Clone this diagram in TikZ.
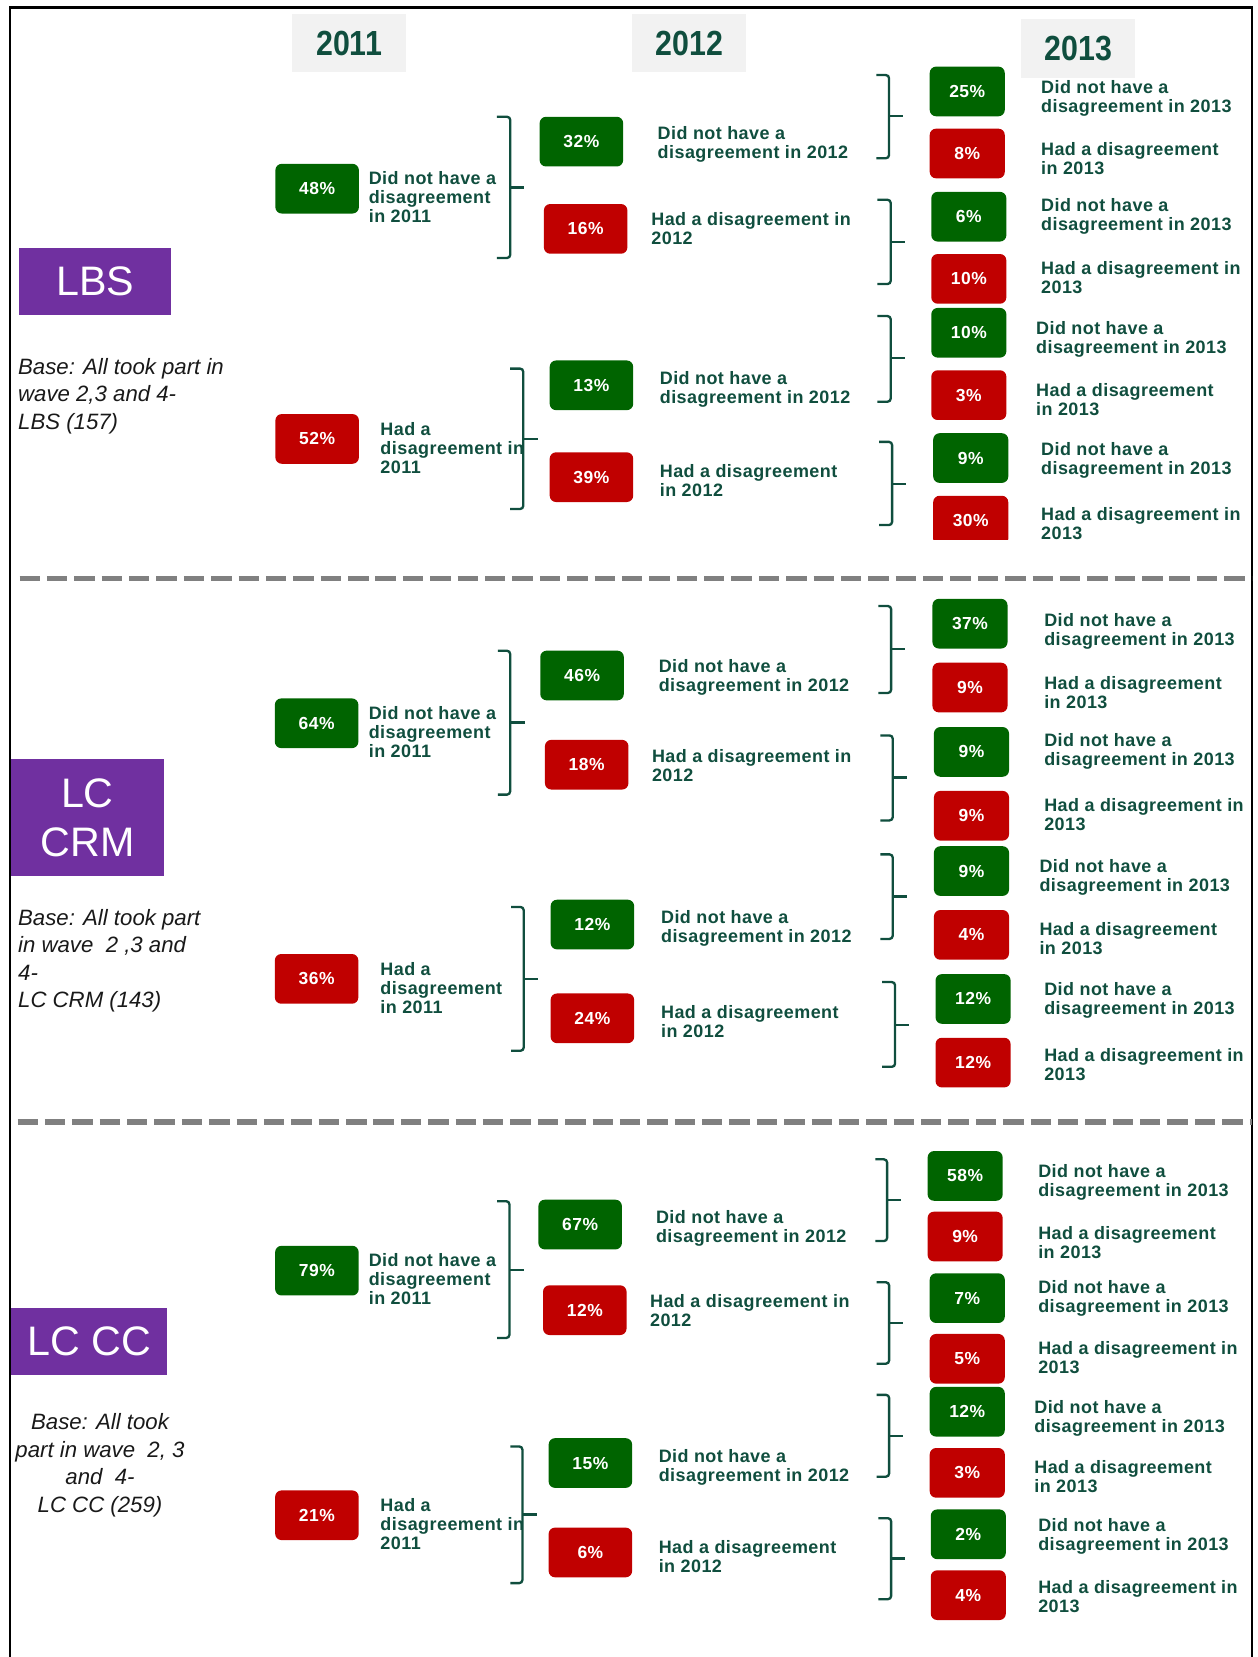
\documentclass[tikz,border=0pt]{standalone}
\usepackage{fontspec}
\setmainfont{Liberation Sans}
\usepackage{graphicx}
\definecolor{boxgreen}{RGB}{0,100,0}
\definecolor{boxred}{RGB}{192,0,0}
\definecolor{labgreen}{RGB}{16,78,62}
\definecolor{secpurple}{RGB}{112,48,160}
\definecolor{hdrgray}{RGB}{242,242,242}
\definecolor{sepgray}{RGB}{128,128,128}
\tikzset{
  pbox/.style={rounded corners=6pt, minimum height=47pt, inner sep=0pt, text=white,
    font=\fontsize{16.5}{16.5}\selectfont\bfseries\addfontfeatures{LetterSpace=3}},
  gb/.style={pbox, fill=boxgreen, minimum width=79pt},
  rb/.style={pbox, fill=boxred, minimum width=79pt},
  gs/.style={pbox, fill=boxgreen, minimum width=71pt},
  rs/.style={pbox, fill=boxred, minimum width=71pt},
  lab/.style={anchor=north west, align=left, inner sep=0pt, text=labgreen,
    font=\fontsize{17}{18}\selectfont\bfseries\addfontfeatures{LetterSpace=2.5}},
  basetxt/.style={inner sep=0pt, text=black!90,
    font=\fontsize{21}{26}\selectfont\itshape},
  hdr/.style={fill=hdrgray, inner sep=0pt, text=labgreen,
    font=\fontsize{33}{33}\selectfont\bfseries},
  sec/.style={fill=secpurple, inner sep=0pt, text=white,
    font=\fontsize{39}{46.5}\selectfont},
  sep/.style={line width=5.4pt, draw=sepgray, dash pattern=on 19.3pt off 6.6pt},
  brk/.style={line width=2.2pt, draw=labgreen, rounded corners=3pt},
  frame/.style={line width=2.5pt, draw=black}
}
\newcommand\brk[6]{\draw[brk] (#1,#4) -- (#2,#4) -- (#2,#5) -- (#1,#5); \draw[brk] (#2,#6) -- (#3,#6);}
\begin{document}
\begin{tikzpicture}[x=1pt,y=-1pt]
\useasboundingbox (0,0) rectangle (1190,1567.5);
\draw[frame] (9.3,1567.5) -- (9.3,7.3) -- (1184.4,7.3) -- (1184.4,1567.5);

% headers
\node[hdr, minimum width=107.4pt, minimum height=55.1pt] (h2011) at (330.3,41) {\scalebox{0.87}[1]{2011}};
\node[hdr, minimum width=108pt, minimum height=55.1pt] (h2012) at (652,41) {\scalebox{0.87}[1]{2012}};
\node[hdr, minimum width=108pt, minimum height=55.7pt] (h2013) at (1020,45.5) {\scalebox{0.87}[1]{2013}};

% section labels
\node[sec, minimum width=144pt, minimum height=63.4pt] (sLBS) at (90,266.3) {LBS};
\node[sec, align=center, minimum width=144.6pt, minimum height=111pt] (sCRM) at (82.7,773.5) {LC\\CRM};
\node[sec, minimum width=147.6pt, minimum height=63pt] (sCC) at (84.2,1269) {LC CC};

% base texts
\node[basetxt, anchor=north west, align=left] (bLBS) at (17,346-7.5) {Base: All took part in\\wave 2,3 and 4-\\LBS (157)};
\node[basetxt, anchor=north west, align=left] (bCRM) at (17,867.5-7.5) {Base: All took part\\in wave~~2 ,3 and\\4-\\LC CRM (143)};
\node[basetxt, anchor=north, align=center] (bCC) at (94.6,1344.7-7.5) {Base: All took\\part in wave~~2, 3\\and~~4-\\LC CC (259)};

% separators
\draw[sep] (18.5,547.3) -- (1184,547.3);
\draw[sep] (16.6,1061.4) -- (1184,1061.4);

% ===== Section 1: LBS =====
\node[gb] (p48) at (300,178.5) {48\%};
\node[rb] (p52) at (300,415.2) {52\%};
\node[gb] (p32) at (550,134) {32\%};
\node[rb] (p16) at (554,216.5) {16\%};
\node[gb] (p13) at (559.5,364.5) {13\%};
\node[rb] (p39) at (559.5,451.4) {39\%};
\node[gs] (p25) at (915,86.5) {25\%};
\node[rs] (p8a) at (915,145.2) {8\%};
\node[gs] (p6a) at (916.5,205) {6\%};
\node[rs] (p10a) at (916.5,263.8) {10\%};
\node[gs] (p10b) at (916.5,314.8) {10\%};
\node[rs] (p3a) at (916.5,373.8) {3\%};
\node[gs] (p9a) at (918.3,433.3) {9\%};
\begin{scope}
\clip (860,460) rectangle (980,510);
\node[rs] (p30) at (918.3,492.5) {30\%};
\end{scope}

\node[lab] (l48) at (348.7,168-6) {Did not have a\\disagreement\\in 2011};
\node[lab] (l52) at (359.7,405.5-6) {Had a\\disagreement in\\2011};
\node[lab] (l32) at (622,125.3-6) {Did not have a\\disagreement in 2012};
\node[lab] (l16) at (616,207-6) {Had a disagreement in\\2012};
\node[lab] (l13) at (624,357-6) {Did not have a\\disagreement in 2012};
\node[lab] (l39) at (624,445.3-6) {Had a disagreement\\in 2012};
\node[lab] (l25) at (984.7,82.1-6) {Did not have a\\disagreement in 2013};
\node[lab] (l8a) at (984.7,140.6-6) {Had a disagreement\\in 2013};
\node[lab] (l6a) at (984.7,193.6-6) {Did not have a\\disagreement in 2013};
\node[lab] (l10a) at (984.7,253.4-6) {Had a disagreement in\\2013};
\node[lab] (l10b) at (980,309.8-6) {Did not have a\\disagreement in 2013};
\node[lab] (l3a) at (980,368.3-6) {Had a disagreement\\in 2013};
\node[lab] (l9a) at (984.7,424.7-6) {Did not have a\\disagreement in 2013};
\node[lab] (l30) at (984.7,485.5-6) {Had a disagreement in\\2013};

\brk{470}{482.7}{496}{110.5}{244}{177.4}
\brk{482.5}{495}{509}{348.7}{481.5}{415}
\brk{829}{841}{854}{71}{149.7}{110}
\brk{830}{842.6}{856}{189}{268.7}{228.7}
\brk{830}{842.6}{856}{299}{380}{338.6}
\brk{831.6}{843.9}{857.5}{418}{496.7}{457.8}

% ===== Section 2: LC CRM =====
\node[gb] (p64) at (299.5,684.2) {64\%};
\node[rb] (p36) at (299.5,926) {36\%};
\node[gb] (p46) at (550.6,639) {46\%};
\node[rb] (p18) at (555,723.4) {18\%};
\node[gb] (p12a) at (560.4,874.6) {12\%};
\node[rb] (p24) at (560.4,963.3) {24\%};
\node[gs] (p37) at (917.6,590) {37\%};
\node[rs] (p9b) at (917.6,650.4) {9\%};
\node[gs] (p9c) at (919,711.3) {9\%};
\node[rs] (p9d) at (919,771.7) {9\%};
\node[gs] (p9e) at (919,824) {9\%};
\node[rs] (p4a) at (919,884.4) {4\%};
\node[gs] (p12b) at (920.5,945) {12\%};
\node[rs] (p12c) at (920.5,1005.2) {12\%};

\node[lab] (l64) at (348.7,674-6) {Did not have a\\disagreement\\in 2011};
\node[lab] (l36) at (359.7,916.3-6) {Had a\\disagreement\\in 2011};
\node[lab] (l46) at (623,629.8-6) {Did not have a\\disagreement in 2012};
\node[lab] (l18) at (616.6,714.6-6) {Had a disagreement in\\2012};
\node[lab] (l12a) at (625.2,867.3-6) {Did not have a\\disagreement in 2012};
\node[lab] (l24) at (625.2,956.8-6) {Had a disagreement\\in 2012};
\node[lab] (l37) at (987.7,585.9-6) {Did not have a\\disagreement in 2013};
\node[lab] (l9b) at (987.7,645.7-6) {Had a disagreement\\in 2013};
\node[lab] (l9c) at (987.7,699.7-6) {Did not have a\\disagreement in 2013};
\node[lab] (l9d) at (987.7,760.9-6) {Had a disagreement in\\2013};
\node[lab] (l9e) at (983.2,818.7-6) {Did not have a\\disagreement in 2013};
\node[lab] (l4a) at (983.2,878.1-6) {Had a disagreement\\in 2013};
\node[lab] (l12b) at (987.7,935.2-6) {Did not have a\\disagreement in 2013};
\node[lab] (l12c) at (987.7,997.4-6) {Had a disagreement in\\2013};

\brk{471}{482.6}{496.2}{615.6}{751.7}{683.5}
\brk{483.4}{495.4}{509}{858}{994}{925.8}
\brk{831}{843}{856}{573.3}{655.5}{614.2}
\brk{832.9}{844.5}{857.9}{695.7}{776.1}{735.5}
\brk{832.9}{844.5}{857.9}{808.2}{888.2}{848}
\brk{834.4}{846.7}{860}{929}{1009.2}{969.6}

% ===== Section 3: LC CC =====
\node[gb] (p79) at (299.8,1202) {79\%};
\node[rb] (p21) at (299.8,1433.4) {21\%};
\node[gb] (p67) at (548.8,1158.4) {67\%};
\node[rb] (p12d) at (553.2,1239.4) {12\%};
\node[gb] (p15) at (558.5,1384) {15\%};
\node[rb] (p6b) at (558.5,1468.6) {6\%};
\node[gs] (p58) at (913,1112.4) {58\%};
\node[rs] (p9f) at (913,1169.7) {9\%};
\node[gs] (p7) at (915,1228) {7\%};
\node[rs] (p5) at (915,1285.4) {5\%};
\node[gs] (p12e) at (915,1335.5) {12\%};
\node[rs] (p3b) at (915,1393.3) {3\%};
\node[gs] (p2) at (916,1451.4) {2\%};
\node[rs] (p4b) at (916,1509) {4\%};

\node[lab] (l79) at (348.7,1191.8-6) {Did not have a\\disagreement\\in 2011};
\node[lab] (l21) at (359.7,1423.7-6) {Had a\\disagreement in\\2011};
\node[lab] (l67) at (620.4,1150.5-6) {Did not have a\\disagreement in 2012};
\node[lab] (l12d) at (614.8,1230.5-6) {Had a disagreement in\\2012};
\node[lab] (l15) at (623,1377-6) {Did not have a\\disagreement in 2012};
\node[lab] (l6b) at (623,1463-6) {Had a disagreement\\in 2012};
\node[lab] (l58) at (982,1107.8-6) {Did not have a\\disagreement in 2013};
\node[lab] (l9f) at (982,1165.6-6) {Had a disagreement\\in 2013};
\node[lab] (l7) at (982,1216.7-6) {Did not have a\\disagreement in 2013};
\node[lab] (l5) at (982,1274.8-6) {Had a disagreement in\\2013};
\node[lab] (l12e) at (978.3,1330.7-6) {Did not have a\\disagreement in 2013};
\node[lab] (l3b) at (978.3,1387.4-6) {Had a disagreement\\in 2013};
\node[lab] (l2) at (982,1442.2-6) {Did not have a\\disagreement in 2013};
\node[lab] (l4b) at (982,1501-6) {Had a disagreement in\\2013};

\brk{470.3}{481.9}{495.4}{1136.3}{1265.7}{1201.2}
\brk{482.7}{494.2}{507.7}{1368.3}{1497.6}{1432.8}
\brk{828}{839.2}{852.3}{1096.7}{1174}{1135.4}
\brk{829.2}{841.1}{854.2}{1213}{1290}{1251.7}
\brk{829.2}{841.1}{854.2}{1319.5}{1396.9}{1358.2}
\brk{831}{843}{856}{1436.2}{1512.8}{1474.2}
\end{tikzpicture}
\end{document}
